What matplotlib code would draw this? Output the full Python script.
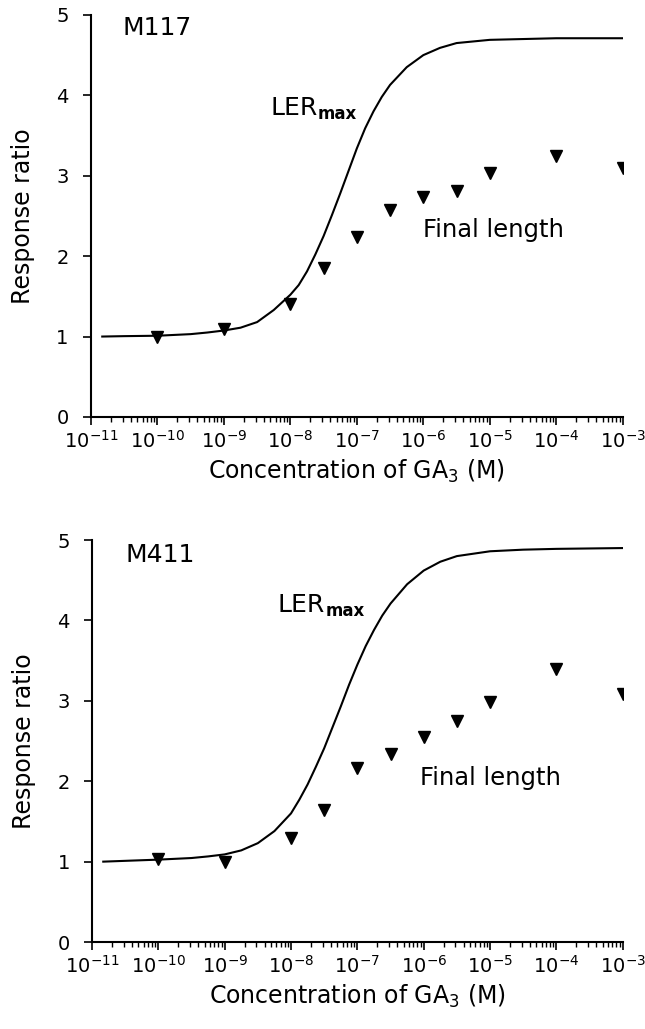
import numpy as np
import matplotlib
matplotlib.use('Agg')
import matplotlib.pyplot as plt

plt.rcParams['font.family'] = 'DejaVu Sans'
plt.rcParams['mathtext.fontset'] = 'dejavusans'

# GA3 concentrations (M) for measured final length
conc = [1e-10, 1e-9, 1e-8, 3.16e-8, 1e-7, 3.16e-7, 1e-6, 3.16e-6, 1e-5, 1e-4, 1e-3]
m117_final = [0.99, 1.10, 1.40, 1.85, 2.24, 2.58, 2.74, 2.81, 3.03, 3.25, 3.10]
m411_final = [1.03, 0.99, 1.29, 1.64, 2.16, 2.34, 2.55, 2.75, 2.98, 3.40, 3.09]

# LERmax curves (log10 of concentration)
curve_logc = [-10.83, -10.5, -10.0, -9.5, -9.25, -9.0, -8.75, -8.5, -8.25, -8.0,
              -7.875, -7.75, -7.625, -7.5, -7.375, -7.25, -7.125, -7.0, -6.875,
              -6.75, -6.625, -6.5, -6.25, -6.0, -5.75, -5.5, -5.0, -4.5, -4.0, -3.0]
m117_ler = [1.00, 1.005, 1.01, 1.03, 1.05, 1.075, 1.11, 1.18, 1.33, 1.52,
            1.64, 1.81, 2.02, 2.25, 2.51, 2.78, 3.06, 3.34, 3.59,
            3.80, 3.98, 4.13, 4.35, 4.50, 4.59, 4.65, 4.69, 4.70, 4.71, 4.71]
m411_ler = [1.00, 1.01, 1.025, 1.045, 1.065, 1.09, 1.14, 1.23, 1.38, 1.60,
            1.77, 1.96, 2.18, 2.41, 2.67, 2.93, 3.20, 3.45, 3.68,
            3.88, 4.06, 4.21, 4.45, 4.62, 4.73, 4.80, 4.86, 4.88, 4.89, 4.90]

xticks = [1e-11, 1e-10, 1e-9, 1e-8, 1e-7, 1e-6, 1e-5, 1e-4, 1e-3]
xticklabels = ['$10^{-11}$', '$10^{-10}$', '$10^{-9}$', '$10^{-8}$', '$10^{-7}$',
               '$10^{-6}$', '$10^{-5}$', '$10^{-4}$', '$10^{-3}$']

fig = plt.figure(figsize=(6.45, 10.29), dpi=100)
ax1 = fig.add_axes([0.141, 0.5948, 0.8245, 0.3907])
ax2 = fig.add_axes([0.1426, 0.0845, 0.8229, 0.3907])

panels = [
    (ax1, 'M117', m117_final, m117_ler, (0.060, 0.950), (0.337, 0.751), (0.624, 0.448)),
    (ax2, 'M411', m411_final, m411_ler, (0.064, 0.945), (0.350, 0.821), (0.618, 0.391)),
]

for ax, name, final, ler, name_pos, ler_pos, fin_pos in panels:
    ax.plot(10 ** np.array(curve_logc), ler, color='black', linewidth=1.5,
            solid_joinstyle='round')
    ax.plot(conc, final, linestyle='none', marker='v', color='black', markersize=9)
    ax.set_xscale('log')
    ax.set_xlim(1e-11, 1e-3)
    ax.set_ylim(0, 5)
    ax.set_xticks(xticks)
    ax.set_xticklabels(xticklabels)
    ax.set_yticks([0, 1, 2, 3, 4, 5])
    for s in ['top', 'right']:
        ax.spines[s].set_visible(False)
    for s in ['left', 'bottom']:
        ax.spines[s].set_linewidth(1.5)
    ax.tick_params(axis='both', which='major', length=6, width=1.2, labelsize=14, direction='out')
    ax.tick_params(axis='y', which='major', pad=10)
    ax.tick_params(axis='x', which='minor', length=3.5, width=1.0)
    ax.set_xlabel('Concentration of GA$_3$ (M)', fontsize=17, labelpad=4)
    ax.set_ylabel('Response ratio', fontsize=17, labelpad=15)
    ax.text(*name_pos, name, transform=ax.transAxes, fontsize=18, va='baseline')
    t = ax.text(*ler_pos, 'LER', transform=ax.transAxes, fontsize=18, va='baseline')
    ax.annotate('max', xy=(1.0, 0.0), xycoords=t, xytext=(0.5, -2),
                textcoords='offset points', fontsize=12, fontweight='bold',
                ha='left', va='bottom')
    ax.text(*fin_pos, 'Final length', transform=ax.transAxes, fontsize=17.5, va='baseline')

fig.savefig('out.png', dpi=100)
